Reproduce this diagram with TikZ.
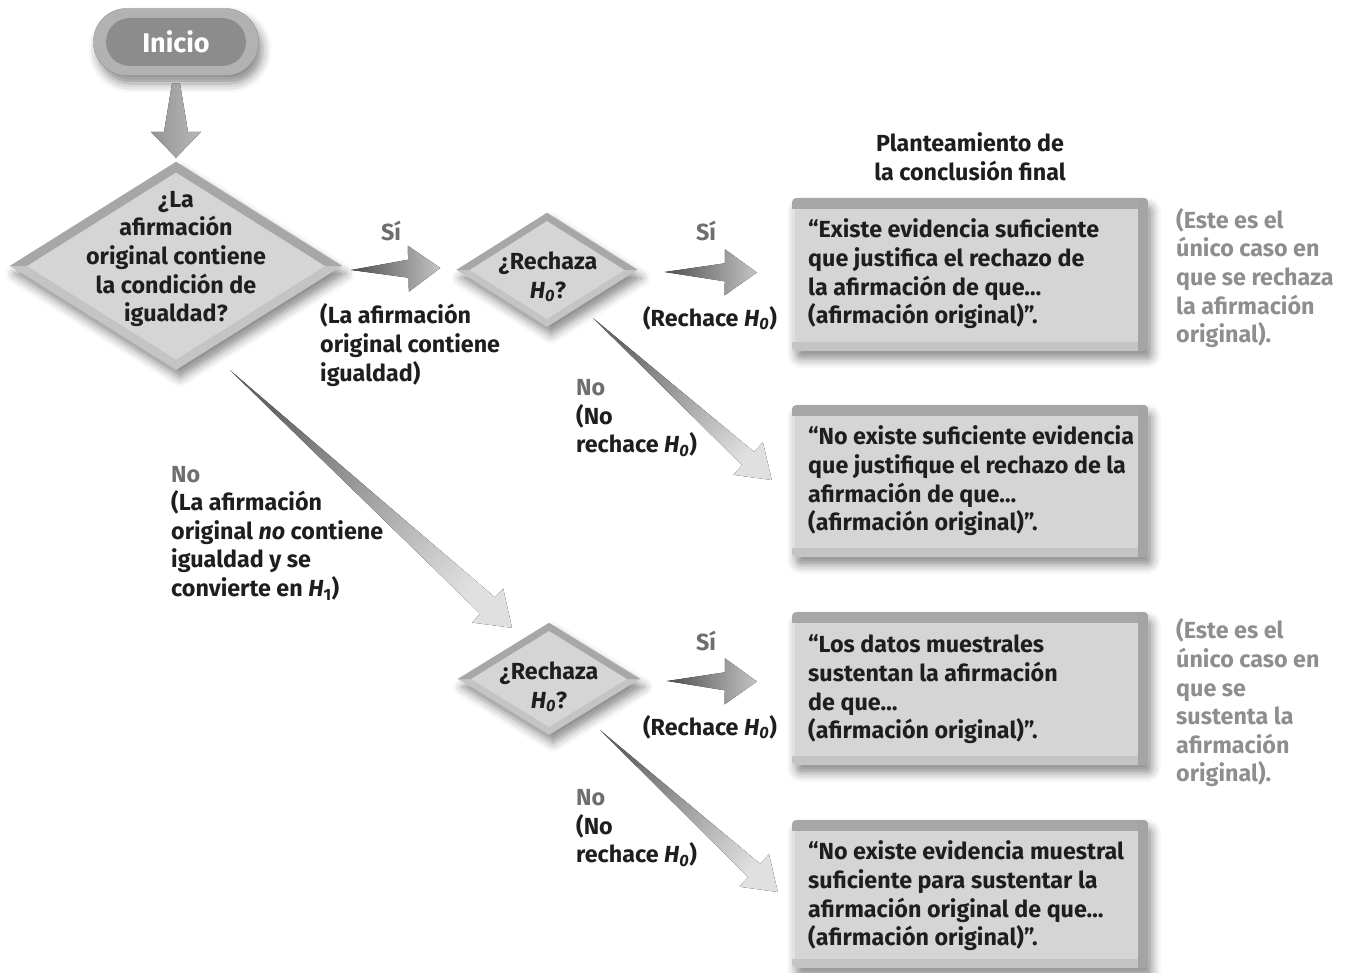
\documentclass[tikz,border=0pt]{standalone}
\usepackage{fontspec}
\setmainfont{Fira Sans}
\usetikzlibrary{calc,shapes.geometric,shadows.blur}

\definecolor{ink}{HTML}{1E1E1E}
\definecolor{labgray}{HTML}{6E6E6E}
\definecolor{notegray}{HTML}{8E8E8E}
\definecolor{face}{HTML}{D5D5D5}
\definecolor{bevdark}{HTML}{A7A7A7}
\definecolor{bevlight}{HTML}{C4C4C4}
\definecolor{arrdark}{HTML}{4E4E4E}
\definecolor{arrlight}{HTML}{C4C4C4}

% tapered block arrow: #1 fill, #2 tail, #3 tip, #4 tail half-width,
% #5 shaft half-width at the head, #6 head half-width, #7 head length
\newcommand\blockarrow[7]{%
  \coordinate (bahead) at ($(#3)!#7pt!(#2)$);
  \fill[#1] ($(#2)!#4pt!90:(#3)$) -- ($(bahead)!#5pt!90:(#3)$)
    -- ($(bahead)!#6pt!90:(#3)$) -- (#3) -- ($(bahead)!#6pt!-90:(#3)$)
    -- ($(bahead)!#5pt!-90:(#3)$) -- ($(#2)!#4pt!-90:(#3)$) -- cycle;
}

% bevelled edges of a conclusion box
\newcommand\bevelbox[1]{%
  \begin{scope}
    \clip[rounded corners=5pt] (#1.north west) rectangle (#1.south east);
    \fill[bevdark] (#1.north west) rectangle ($(#1.north east)+(0,11)$);
    \fill[HTML=A4A4A4] ($(#1.north east)+(-10,0)$) rectangle (#1.south east);
    \fill[bevlight] ($(#1.south west)+(0,-9)$) rectangle ($(#1.south east)+(-10,0)$);
    \fill[HTML=E2E2E2] ($(#1.north west)+(0,11)$) rectangle ($(#1.south west)+(3,-9)$);
  \end{scope}
}

\tikzset{HTML/.code={\definecolor{tmpc}{HTML}{#1}\pgfsetfillcolor{tmpc}}}

\begin{document}
\begin{tikzpicture}[x=1pt,y=-1pt,
  base/.style={font=\fontsize{23.3}{28.6}\selectfont\bfseries, inner sep=0pt},
  body/.style={base, text=ink},
  tag/.style={base, text=labgray},
  note/.style={base, text=notegray, align=left, anchor=west},
  side/.style={base, text=ink, align=left, anchor=west},
  softshadow/.style={blur shadow={shadow xshift=4pt, shadow yshift=-8pt,
      shadow blur radius=9pt, shadow opacity=45}},
  conclusion/.style={rectangle, rounded corners=5pt, fill=face, softshadow,
      minimum width=356pt, inner sep=0pt},
  decision/.style={diamond, inner sep=0pt, fill=bevlight, softshadow},
  decisionface/.style={diamond, inner sep=0pt, fill=face},
]
\useasboundingbox (0,0) rectangle (1351,973);

% start terminal
\node[rectangle, rounded corners=33pt, minimum width=165pt, minimum height=67pt,
      fill=black!30, draw=black!42, softshadow] (inicio) at (176,42) {};
\node[rectangle, rounded corners=24pt, minimum width=140pt, minimum height=48pt,
      fill=black!45, text=white, font=\fontsize{27}{30}\selectfont\bfseries,
      inner sep=0pt] (inicioin) at (inicio.center) {Inicio};

% decisions
\node[decision, minimum width=332pt, minimum height=208pt] (d1) at (176,266) {};
\fill[bevdark] (d1.west) -- (d1.north) -- (d1.east) -- cycle;
\node[decisionface, minimum width=298pt, minimum height=187pt] (d1in) at (d1.center) {};
\node[body, align=center] (d1t) at (176,259)
  {¿La\\afirmación\\original contiene\\la condición de\\igualdad?};

\node[decision, minimum width=181pt, minimum height=114pt] (d2) at (547,270) {};
\fill[bevdark] (d2.west) -- (d2.north) -- (d2.east) -- cycle;
\node[decisionface, minimum width=155pt, minimum height=98pt] (d2in) at (d2.center) {};
\node[body, align=center] (d2t) at (548,277) {¿Rechaza\\\textit{H}\textsubscript{\textit{0}}?};

\node[decision, minimum width=182pt, minimum height=112pt] (d3) at (549,679) {};
\fill[bevdark] (d3.west) -- (d3.north) -- (d3.east) -- cycle;
\node[decisionface, minimum width=156pt, minimum height=96pt] (d3in) at (d3.center) {};
\node[body, align=center] (d3t) at (549,687) {¿Rechaza\\\textit{H}\textsubscript{\textit{0}}?};

% conclusions
\node[conclusion, minimum height=153pt] (b1) at (970,274.5) {};
\node[conclusion, minimum height=152pt] (b2) at (970,481) {};
\node[conclusion, minimum height=153pt] (b3) at (970,688.5) {};
\node[conclusion, minimum height=148pt] (b4) at (970,894) {};
\bevelbox{b1}
\bevelbox{b2}
\bevelbox{b3}
\bevelbox{b4}
\node[side] (b1t) at (808,274)
  {“Existe evidencia suficiente\\que justifica el rechazo de\\la afirmación de que…\\(afirmación original)”.};
\node[side] (b2t) at (808,481)
  {“No existe suficiente evidencia\\que justifique el rechazo de la\\afirmación de que…\\(afirmación original)”.};
\node[side] (b3t) at (808,689.5)
  {“Los datos muestrales\\sustentan la afirmación\\de que…\\(afirmación original)”.};
\node[side] (b4t) at (808,896)
  {“No existe evidencia muestral\\suficiente para sustentar la\\afirmación original de que…\\(afirmación original)”.};

% connectors
\coordinate (a0s) at ($(inicio.south)+(0,8)$);
\coordinate (a0e) at ($(d1.north)+(0,-4)$);
\blockarrow{left color=black!42, right color=black!28}{a0s}{a0e}{4}{12}{25}{26}

\coordinate (a1s) at ($(d1.east)+(9,4)$);
\coordinate (a1e) at ($(d2.west)+(-16,-2)$);
\blockarrow{left color=arrdark, right color=arrlight}{a1s}{a1e}{0}{9}{23}{32}

\coordinate (a2s) at ($(d2.east)+(27,2)$);
\coordinate (a2e) at ($(b1.west)+(-35,-2)$);
\blockarrow{left color=arrdark, right color=arrlight}{a2s}{a2e}{0}{9}{23}{32}

\coordinate (a3s) at ($(d3.east)+(27,2)$);
\coordinate (a3e) at ($(b3.west)+(-35,-7)$);
\blockarrow{left color=arrdark, right color=arrlight}{a3s}{a3e}{0}{9}{23}{32}

\coordinate (a4s) at ($(d2.center)+(46,48)$);
\coordinate (a4e) at ($(b2.west)+(-20,-1)$);
\blockarrow{top color=black!60, bottom color=black!12, shading angle=48}{a4s}{a4e}{0}{9}{22}{32}

\coordinate (a5s) at ($(d3.center)+(51,51)$);
\coordinate (a5e) at ($(b4.west)+(-14,-2)$);
\blockarrow{top color=black!60, bottom color=black!12, shading angle=48}{a5s}{a5e}{0}{9}{22}{32}

\coordinate (a6s) at ($(d1.south)+(54,0)$);
\coordinate (a6e) at ($(d3.north)+(-37,5)$);
\blockarrow{top color=black!60, bottom color=black!12, shading angle=47}{a6s}{a6e}{0}{11}{23}{33}

% labels
\node[tag] (si1) at (391,231) {Sí};
\node[tag] (si2) at (706,231) {Sí};
\node[tag] (si3) at (706,641) {Sí};
\node[side] (l1) at (320,345) {(La afirmación\\original contiene\\igualdad)};
\node[body] (r1) at (710,318) {(Rechace \textit{H}\textsubscript{\textit{0}})};
\node[body] (r3) at (710,727) {(Rechace \textit{H}\textsubscript{\textit{0}})};
\node[side] (n2) at (576,418) {{\color{labgray}No}\\(No\\rechace \textit{H}\textsubscript{\textit{0}})};
\node[side] (n3) at (576,828) {{\color{labgray}No}\\(No\\rechace \textit{H}\textsubscript{\textit{0}})};
\node[side] (n1) at (171,533)
  {{\color{labgray}No}\\(La afirmación\\original \textit{no} contiene\\igualdad y se\\convierte en \textit{H}\textsubscript{1})};
\node[body, align=center] (head) at (970,157) {Planteamiento de\\la conclusión final};
\node[note] (note1) at (1176,278) {(Este es el\\único caso en\\que se rechaza\\la afirmación\\original).};
\node[note] (note2) at (1176,703) {(Este es el\\único caso en\\que se\\sustenta la\\afirmación\\original).};
\end{tikzpicture}
\end{document}
